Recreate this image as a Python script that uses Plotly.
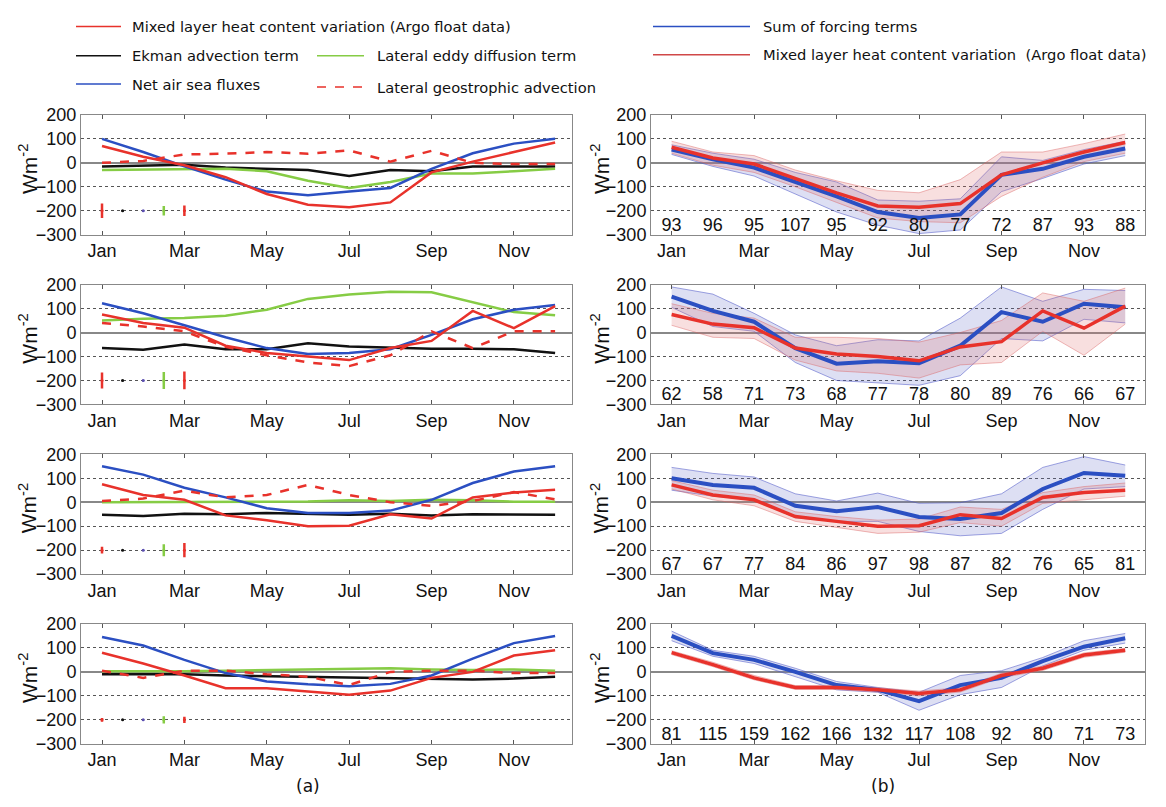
import plotly.graph_objects as go

months = list(range(1, 13))
tick_months = [1, 3, 5, 7, 9, 11]
tick_labels = ["Jan", "Mar", "May", "Jul", "Sep", "Nov"]

# ---------- Panel (a): one list per row (4 rows) ----------
mixed_a = [
    [70, 25, -10, -60, -130, -175, -185, -165, -40, 5, 45, 85],
    [75, 40, 20, -55, -85, -100, -115, -65, -35, 90, 18, 110],
    [75, 30, 10, -55, -75, -100, -98, -50, -68, 20, 40, 52],
    [80, 35, -15, -68, -68, -80, -95, -78, -25, 0, 68, 90],
]
ekman_a = [
    [-15, -10, -8, -20, -25, -30, -55, -30, -35, -15, -15, -15],
    [-65, -72, -50, -70, -70, -45, -58, -62, -68, -68, -70, -85],
    [-52, -58, -48, -50, -45, -48, -52, -48, -55, -50, -50, -52],
    [-10, -10, -10, -15, -18, -22, -25, -28, -28, -32, -28, -20],
]
net_a = [
    [100, 45, -15, -70, -120, -135, -120, -105, -25, 40, 80, 100],
    [122, 80, 30, -20, -65, -90, -85, -70, -10, 55, 95, 115],
    [150, 115, 60, 20, -25, -45, -45, -35, 10, 80, 128, 150],
    [145, 110, 50, -5, -40, -52, -60, -50, -15, 55, 120, 150],
]
eddy_a = [
    [-30, -28, -25, -25, -35, -75, -105, -80, -45, -45, -35, -25],
    [50, 57, 60, 70, 95, 140, 158, 170, 168, 125, 85, 72],
    [0, 0, 2, 2, 2, 3, 8, 5, 10, 8, 2, 2],
    [3, 2, 3, 5, 8, 12, 15, 15, 10, 8, 10, 5],
]
geo_a = [
    [0, 8, 35, 38, 45, 38, 52, 5, 50, 0, -5, -5],
    [40, 25, 5, -60, -95, -125, -140, -95, 5, -65, 5, 5],
    [5, 15, 48, 20, 30, 72, 30, 0, -15, 5, 42, 12],
    [5, -25, 5, 5, -10, -20, -55, 0, 5, 5, -5, -5],
]
# representative error bars (half-lengths) per row, shown at -200
err_level = -200
err_mixed = [30, 33, 14, 8]
err_ekman = [3, 3, 2, 2]
err_net = [3, 3, 2, 2]
err_eddy = [20, 35, 25, 15]
err_geo = [22, 37, 30, 13]

# ---------- Panel (b) ----------
sum_b = [
    [55, 15, -20, -80, -140, -205, -230, -215, -50, -25, 25, 60],
    [150, 90, 45, -65, -130, -120, -128, -55, 85, 45, 120, 105],
    [100, 72, 60, -15, -38, -20, -62, -70, -45, 55, 122, 110],
    [150, 78, 50, 0, -55, -75, -122, -55, -25, 45, 105, 140],
]
sum_b_hi = [
    [75, 40, 15, -40, -80, -155, -160, -150, 25, 10, 55, 90],
    [190, 160, 80, -10, -55, -30, -35, 60, 190, 130, 180, 175],
    [145, 120, 105, 35, 5, 38, -5, -2, 35, 145, 190, 155],
    [170, 90, 65, 15, -40, -65, -85, -15, 5, 60, 130, 160],
]
sum_b_lo = [
    [35, -15, -55, -130, -205, -260, -295, -280, -120, -65, -5, 30],
    [105, 25, 5, -125, -200, -210, -220, -180, -25, -35, 55, 40],
    [50, 25, 10, -65, -80, -80, -122, -140, -130, -30, 55, 65],
    [130, 65, 35, -20, -75, -85, -160, -95, -65, 25, 90, 120],
]
mixed_b = [
    [65, 20, -5, -65, -125, -180, -185, -170, -50, 0, 45, 85],
    [75, 35, 20, -65, -90, -100, -118, -60, -38, 90, 18, 110],
    [72, 30, 10, -60, -80, -100, -98, -52, -68, 20, 40, 50],
    [80, 30, -25, -65, -65, -75, -90, -75, -15, 15, 70, 90],
]
mixed_b_hi = [
    [90, 45, 30, -30, -75, -115, -125, -70, 45, 45, 80, 120],
    [120, 80, 60, -20, -20, -25, -40, 0, 50, 165, 130, 185],
    [90, 50, 30, -40, -60, -75, -70, -20, -30, 40, 65, 80],
    [88, 40, -15, -57, -57, -66, -80, -66, -6, 24, 79, 98],
]
mixed_b_lo = [
    [40, -10, -40, -100, -165, -230, -245, -250, -140, -60, 5, 40],
    [30, -20, -25, -115, -160, -170, -190, -135, -125, 5, -95, 35],
    [55, 10, -15, -80, -105, -130, -125, -85, -100, -5, 10, 25],
    [72, 22, -33, -73, -73, -84, -100, -84, -24, 6, 61, 82],
]
counts_b = [
    [93, 96, 95, 107, 95, 92, 80, 77, 72, 87, 93, 88],
    [62, 58, 71, 73, 68, 77, 78, 80, 89, 76, 66, 67],
    [67, 67, 77, 84, 86, 97, 98, 87, 82, 76, 65, 81],
    [81, 115, 159, 162, 166, 132, 117, 108, 92, 80, 71, 73],
]
count_level = -264

# ---------- styling ----------
RED = "#e8322b"
BLUE = "#2b4fc2"
GREEN = "#86cc45"
BLACK = "#111111"
FONT = "Liberation Sans"

W, H = 1166, 807


def px(x):
    return x / W


def py(y):
    return 1 - y / H


row_px = [(107.5, 230.5), (281.5, 404.5), (455.5, 578.5), (629.5, 752.5)]
col_px = [(81, 572), (651, 1145)]
row_dom = [(py(b), py(t)) for t, b in row_px]
col_dom = [(px(l), px(r)) for l, r in col_px]
col_xrange = [(0.49, 12.41), (0.5, 12.48)]
ytitle_x = [28, 600]

fig = go.Figure()
layout = {}
annots = []


def ax(r, c):
    return r * 2 + c + 1


def sfx(i):
    return "" if i == 1 else str(i)


for r in range(4):
    for c in range(2):
        i = ax(r, c)
        s = sfx(i)
        layout["xaxis" + s] = dict(
            domain=list(col_dom[c]), anchor="y" + s, range=list(col_xrange[c]),
            tickvals=tick_months, ticktext=tick_labels, ticks="inside", ticklen=4,
            tickcolor="#555", showline=True, linecolor="#888", linewidth=1, mirror="ticks",
            showgrid=False, zeroline=False, tickfont=dict(size=18, family=FONT, color="#111"),
        )
        layout["yaxis" + s] = dict(
            domain=list(row_dom[r]), anchor="x" + s, range=[-300, 200],
            tickvals=[-300, -200, -100, 0, 100, 200], showline=True, linecolor="#888",
            linewidth=1, mirror=True, showgrid=True, gridcolor="#555", griddash="dot",
            gridwidth=1, zeroline=True, zerolinecolor="#888", zerolinewidth=1.5,
            ticks="", tickfont=dict(size=18, family=FONT, color="#111"),
        )
        t, b = row_px[r]
        annots.append(dict(xref="paper", yref="paper", x=px(ytitle_x[c]), y=py((t + b) / 2 - 6),
                           text="Wm<sup>-2</sup>", textangle=-90, showarrow=False,
                           xanchor="center", yanchor="middle",
                           font=dict(size=21, family=FONT, color="#111")))

# panel (a)
for r in range(4):
    s = sfx(ax(r, 0))
    xa, ya = "x" + s, "y" + s
    specs = [
        (ekman_a[r], BLACK, "solid"),
        (eddy_a[r], GREEN, "solid"),
        (net_a[r], BLUE, "solid"),
        (geo_a[r], RED, "dash"),
        (mixed_a[r], RED, "solid"),
    ]
    for vals, col, dash in specs:
        fig.add_trace(go.Scatter(x=months, y=vals, mode="lines", xaxis=xa, yaxis=ya,
                                 line=dict(color=col, width=2.5, dash=dash), showlegend=False))
    errs = [(1, err_mixed[r], RED), (1.5, err_ekman[r], BLACK), (2, err_net[r], "#5b4fb0"),
            (2.5, err_eddy[r], GREEN), (3, err_geo[r], RED)]
    for ex, ev, col in errs:
        fig.add_trace(go.Scatter(x=[ex], y=[err_level], mode="markers", xaxis=xa, yaxis=ya,
                                 marker=dict(size=3, color=col),
                                 error_y=dict(type="data", array=[ev], color=col, thickness=2.5, width=0),
                                 showlegend=False))

# panel (b)
for r in range(4):
    s = sfx(ax(r, 1))
    xa, ya = "x" + s, "y" + s
    for hi, lo, fillc, edgec in [
        (sum_b_hi[r], sum_b_lo[r], "rgba(100,110,200,0.22)", "rgba(80,90,200,0.55)"),
        (mixed_b_hi[r], mixed_b_lo[r], "rgba(225,110,110,0.22)", "rgba(220,100,100,0.45)"),
    ]:
        fig.add_trace(go.Scatter(x=months, y=hi, mode="lines", xaxis=xa, yaxis=ya,
                                 line=dict(color=edgec, width=1), showlegend=False))
        fig.add_trace(go.Scatter(x=months, y=lo, mode="lines", xaxis=xa, yaxis=ya, fill="tonexty",
                                 fillcolor=fillc, line=dict(color=edgec, width=1), showlegend=False))
    fig.add_trace(go.Scatter(x=months, y=sum_b[r], mode="lines", xaxis=xa, yaxis=ya,
                             line=dict(color=BLUE, width=4), showlegend=False))
    fig.add_trace(go.Scatter(x=months, y=mixed_b[r], mode="lines", xaxis=xa, yaxis=ya,
                             line=dict(color=RED, width=3.5), showlegend=False))
    fig.add_trace(go.Scatter(x=months, y=[count_level] * 12, mode="text", xaxis=xa, yaxis=ya,
                             text=[str(v) for v in counts_b[r]],
                             textfont=dict(size=18, family=FONT, color="#111"), showlegend=False))

# legends (drawn as shapes + annotations)
shapes = []
leg_items = [
    (76, 121, 17, RED, "solid", 130, "Mixed layer heat content variation (Argo float data)"),
    (76, 121, 47, BLACK, "solid", 130, "Ekman advection term"),
    (76, 121, 76, BLUE, "solid", 130, "Net air sea fluxes"),
    (317, 364, 47, GREEN, "solid", 375, "Lateral eddy diffusion term"),
    (317, 364, 79, RED, "dash", 375, "Lateral geostrophic advection"),
    (653, 750, 17, BLUE, "solid", 761, "Sum of forcing terms"),
    (653, 750, 46, "#d04848", "solid", 761, "Mixed layer heat content variation  (Argo float data)"),
]
for x0, x1, y, col, dash, tx, txt in leg_items:
    shapes.append(dict(type="line", xref="paper", yref="paper", x0=px(x0), x1=px(x1),
                       y0=py(y), y1=py(y), line=dict(color=col, width=1.5, dash=dash)))
    annots.append(dict(xref="paper", yref="paper", x=px(tx), y=py(y), text=txt, showarrow=False,
                       xanchor="left", yanchor="middle",
                       font=dict(size=14.7, family="DejaVu Sans", color="#111")))

annots.append(dict(xref="x7", yref="paper", x=5.99, y=py(796), text="(a)", showarrow=False,
                   xanchor="center", yanchor="middle",
                   font=dict(size=17, family="DejaVu Sans", color="#111")))
annots.append(dict(xref="x8", yref="paper", x=6.13, y=py(796), text="(b)", showarrow=False,
                   xanchor="center", yanchor="middle",
                   font=dict(size=17, family="DejaVu Sans", color="#111")))

fig.update_layout(**layout)
fig.update_layout(width=W, height=H, margin=dict(l=0, r=0, t=0, b=0), plot_bgcolor="white",
                  paper_bgcolor="white", shapes=shapes, annotations=annots, showlegend=False,
                  hovermode=False)
fig.write_html("out.html", config={"displayModeBar": False},
               post_script="document.body.style.margin='0px';")
